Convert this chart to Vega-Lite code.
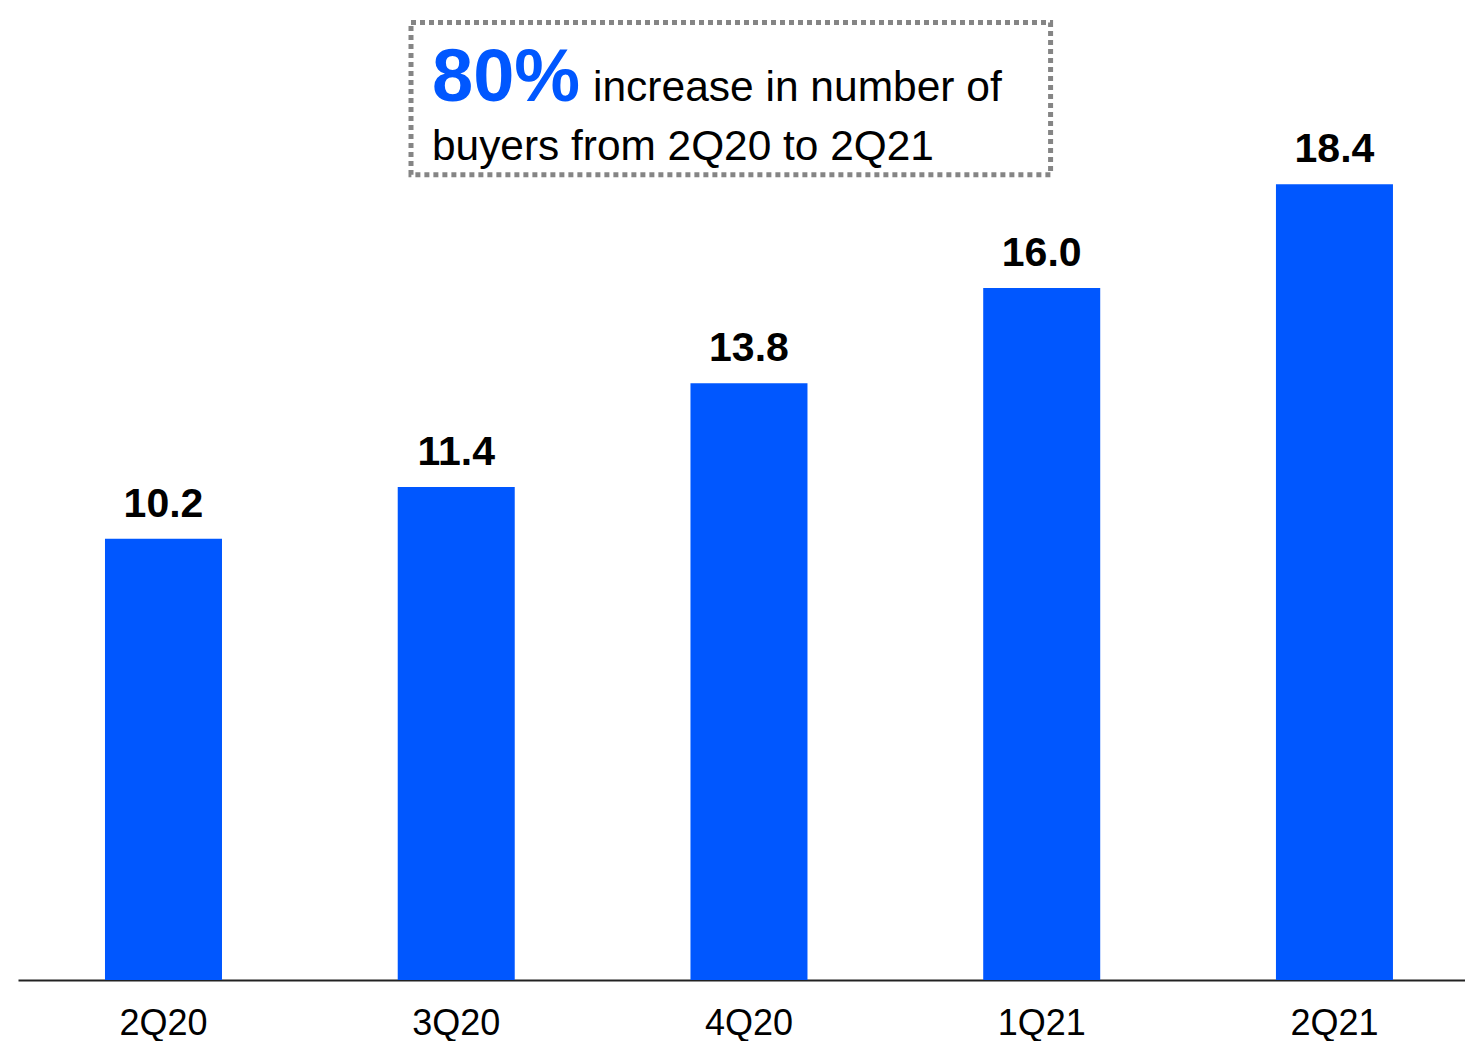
{
  "$schema": "https://vega.github.io/schema/vega-lite/v6.json",
  "width": 1447,
  "height": 980,
  "autosize": "none",
  "padding": {"left": 18, "top": 0, "right": 0, "bottom": 61},
  "background": "white",
  "config": {"view": {"stroke": null}, "font": "Liberation Sans"},
  "resolve": {"scale": {"x": "independent"}},
  "layer": [
    {
      "data": {"values": [
        {"quarter": "2Q20", "buyers": 10.2},
        {"quarter": "3Q20", "buyers": 11.4},
        {"quarter": "4Q20", "buyers": 13.8},
        {"quarter": "1Q21", "buyers": 16.0},
        {"quarter": "2Q21", "buyers": 18.4}
      ]},
      "encoding": {
        "x": {"field": "quarter", "type": "nominal", "sort": null,
          "scale": {"paddingInner": 0.6003, "paddingOuter": 0.2716, "align": 0.547},
          "axis": {"title": null, "labelAngle": 0, "labelFontSize": 36, "labelColor": "#000000",
            "labelFont": "Liberation Sans", "labelBaseline": "alphabetic", "labelPadding": 54,
            "ticks": false, "tickSize": 0, "domain": true, "domainColor": "#222222", "domainWidth": 2, "grid": false}},
        "y": {"field": "buyers", "type": "quantitative", "scale": {"domain": [0, 22.66], "nice": false, "zero": true}, "axis": null}
      },
      "layer": [
        {"mark": {"type": "bar", "color": "#0057FF"}},
        {"mark": {"type": "text", "fontSize": 41, "fontWeight": "bold", "color": "#000000", "baseline": "alphabetic", "align": "center", "dy": -22},
         "encoding": {"text": {"field": "buyers", "type": "quantitative", "format": ".1f"}}}
      ]
    },
    {
      "data": {"values": [{"note": "box"}]},
      "mark": {"type": "rect", "fill": "transparent", "stroke": "#858585", "strokeWidth": 5, "strokeDash": [5, 4]},
      "encoding": {
        "x": {"datum": 1.358, "type": "quantitative", "scale": {"domain": [0, 5], "nice": false, "zero": false}, "axis": null},
        "x2": {"datum": 3.568},
        "y": {"datum": 22.14, "type": "quantitative", "axis": null},
        "y2": {"datum": 18.62}
      }
    },
    {
      "data": {"values": [{"note": "80%"}]},
      "mark": {"type": "text", "fontSize": 74, "fontWeight": "bold", "color": "#0057FF", "align": "left", "baseline": "alphabetic"},
      "encoding": {
        "x": {"datum": 1.4305, "type": "quantitative", "scale": {"domain": [0, 5], "nice": false, "zero": false}, "axis": null},
        "y": {"datum": 20.32, "type": "quantitative", "axis": null},
        "text": {"field": "note"}
      }
    },
    {
      "data": {"values": [{"note": "increase in number of"}]},
      "mark": {"type": "text", "fontSize": 42.5, "color": "#000000", "align": "left", "baseline": "alphabetic"},
      "encoding": {
        "x": {"datum": 1.987, "type": "quantitative", "scale": {"domain": [0, 5], "nice": false, "zero": false}, "axis": null},
        "y": {"datum": 20.32, "type": "quantitative", "axis": null},
        "text": {"field": "note"}
      }
    },
    {
      "data": {"values": [{"note": "buyers from 2Q20 to 2Q21"}]},
      "mark": {"type": "text", "fontSize": 42.4, "color": "#000000", "align": "left", "baseline": "alphabetic"},
      "encoding": {
        "x": {"datum": 1.4305, "type": "quantitative", "scale": {"domain": [0, 5], "nice": false, "zero": false}, "axis": null},
        "y": {"datum": 18.96, "type": "quantitative", "axis": null},
        "text": {"field": "note"}
      }
    }
  ]
}
